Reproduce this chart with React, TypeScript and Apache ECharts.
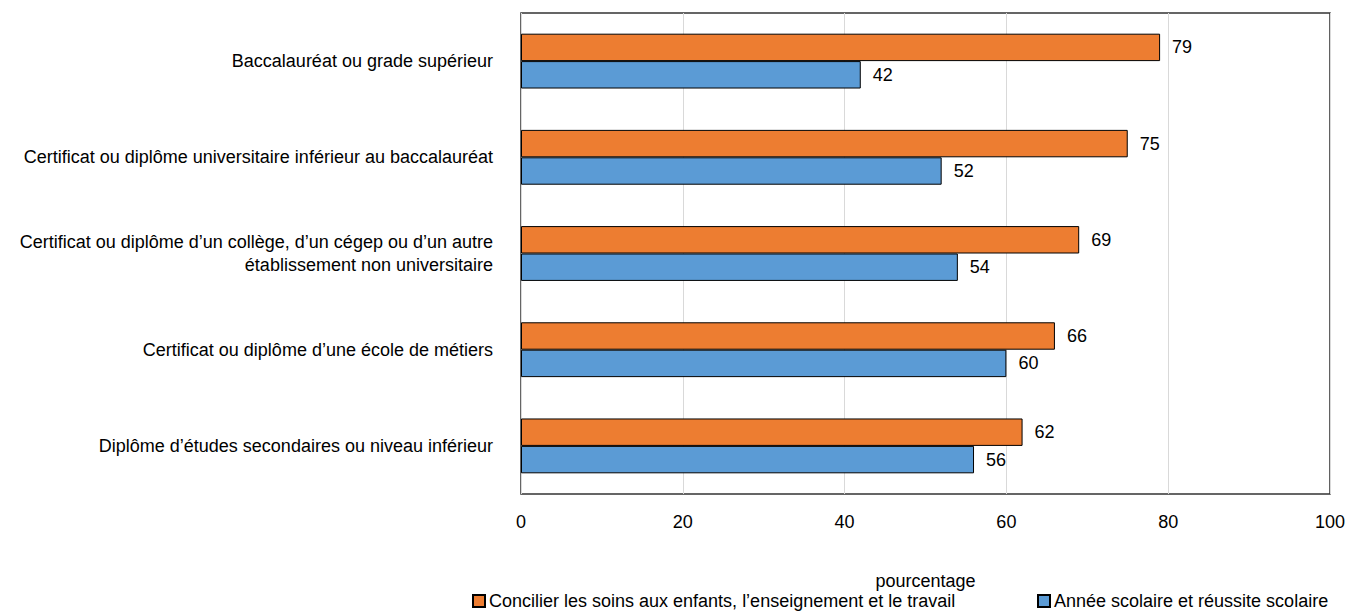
import React, { useEffect, useRef } from "react";
import * as echarts from "echarts";

const categories = [
  "Baccalauréat ou grade supérieur",
  "Certificat ou diplôme universitaire inférieur au baccalauréat",
  "Certificat ou diplôme d’un collège, d’un cégep ou d’un autre\nétablissement non universitaire",
  "Certificat ou diplôme d’une école de métiers",
  "Diplôme d’études secondaires ou niveau inférieur",
];
const seriesNames = [
  "Concilier les soins aux enfants, l’enseignement et le travail",
  "Année scolaire et réussite scolaire",
];
const childcareValues = [79, 75, 69, 66, 62];
const schoolValues = [42, 52, 54, 60, 56];
const xTicks = [0, 20, 40, 60, 80, 100];

const FONT = "'Liberation Sans', Arial, sans-serif";
const FS = 18;

export default function App() {
  const ref = useRef<HTMLDivElement>(null);
  useEffect(() => {
    if (!ref.current) return;
    const chart = echarts.init(ref.current, undefined, { renderer: "svg" });
    const label = {
      show: true,
      position: "right" as const,
      distance: 12,
      color: "#000",
      fontSize: FS,
      fontFamily: FONT,
    };
    const legendCommon = {
      top: 587,
      itemWidth: 12,
      itemHeight: 12,
      itemGap: 10,
      icon: "rect",
      selectedMode: false as const,
      textStyle: { fontSize: FS, color: "#000", fontFamily: FONT, padding: [0, 0, 0, -1] },
    };
    chart.setOption({
      animation: false,
      textStyle: { fontFamily: FONT },
      grid: {
        left: 521,
        right: 18,
        top: 13,
        bottom: 117,
        show: true,
        borderColor: "#333",
        borderWidth: 1.5,
        backgroundColor: "transparent",
        containLabel: false,
      },
      legend: [
        { ...legendCommon, left: 467, data: [seriesNames[0]] },
        { ...legendCommon, left: 1032, data: [seriesNames[1]] },
      ],
      xAxis: {
        type: "value",
        min: xTicks[0],
        max: xTicks[xTicks.length - 1],
        interval: 20,
        name: "pourcentage",
        nameLocation: "middle",
        nameGap: 78,
        nameTextStyle: { fontSize: FS, color: "#000", fontFamily: FONT },
        axisLine: { show: false },
        axisTick: { show: false },
        axisLabel: { fontSize: FS, color: "#000", margin: 19, fontFamily: FONT },
        splitLine: { show: true, lineStyle: { color: "#d9d9d9", width: 1 } },
      },
      yAxis: {
        type: "category",
        data: categories,
        inverse: true,
        axisLine: { show: false },
        axisTick: { show: false },
        axisLabel: {
          fontSize: FS,
          color: "#000",
          margin: 28,
          lineHeight: 23,
          align: "right",
          fontFamily: FONT,
        },
        splitLine: { show: false },
      },
      series: [
        {
          name: seriesNames[0],
          type: "bar",
          data: childcareValues,
          barGap: "0%",
          barCategoryGap: "43%",
          itemStyle: { color: "#ED7D31", borderColor: "#000", borderWidth: 1 },
          label,
        },
        {
          name: seriesNames[1],
          type: "bar",
          data: schoolValues,
          barGap: "0%",
          barCategoryGap: "43%",
          itemStyle: { color: "#5B9BD5", borderColor: "#000", borderWidth: 1 },
          label,
        },
      ],
    });
    return () => chart.dispose();
  }, []);
  return <div ref={ref} style={{ width: 1348, height: 611, position: "absolute", left: 0, top: 0 }} />;
}
